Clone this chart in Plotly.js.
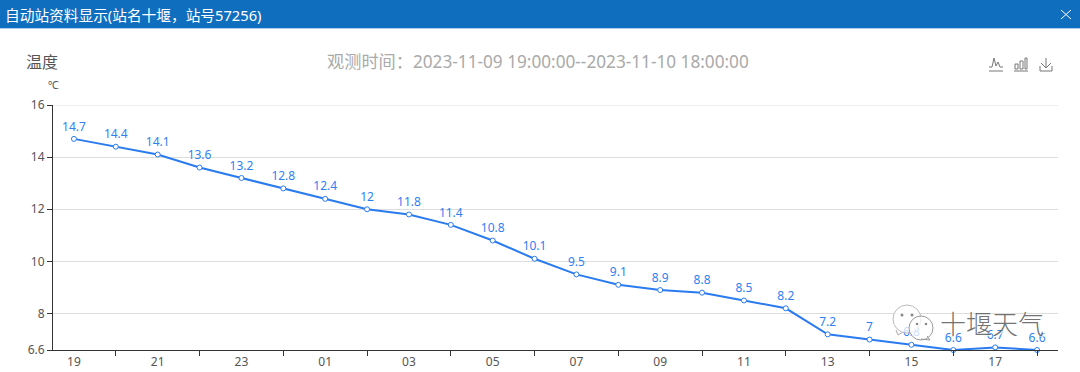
<!DOCTYPE html>
<html><head><meta charset="utf-8">
<script src="https://cdn.plot.ly/plotly-3.0.1.min.js"></script>
<style>html,body{margin:0;padding:0;background:#fff;overflow:hidden}#c{width:1080px;height:372px}</style>
</head><body><div id="c"></div>
<script>
const hours = ['19','20','21','22','23','00','01','02','03','04','05','06','07','08','09','10','11','12','13','14','15','16','17','18'];
const temps = [14.7,14.4,14.1,13.6,13.2,12.8,12.4,12,11.8,11.4,10.8,10.1,9.5,9.1,8.9,8.8,8.5,8.2,7.2,7,6.8,6.6,6.7,6.6];
const labelledHours = ['19','21','23','01','03','05','07','09','11','13','15','17'];
const tickedHours = ['20','22','00','02','04','06','08','10','12','14','16','18'];
const yTicks = [6.6,8,10,12,14,16];
const yTickText = ['6.6','8','10','12','14','16'];
const panelTitle = '自动站资料显示(站名十堰\uFF0C站号57256)';
const chartName = '温度';
const timeTitle = '观测时间\uFF1A2023-11-09 19:00:00--2023-11-10 18:00:00';
const unit = '℃';
const watermark = '十堰天气';

const L=53,R=1058,T=105,B=350;
const FONT='"Noto Sans","Noto Sans CJK SC",sans-serif';
const X=p=>(p-L)/(R-L), Y=p=>(B-p)/(B-T);
const path=(cmds)=>cmds.map(c=>typeof c==='string'?c:X(c[0])+','+Y(c[1])).join(' ').replace(/([MLQC]) /g,'$1');
function line(d,color,w){return {type:'path',xref:'paper',yref:'paper',path:path(d),line:{color:color,width:w},fillcolor:'rgba(0,0,0,0)',layer:'above'};}
function rect(x0,y0,x1,y1,fill){return {type:'rect',xref:'paper',yref:'paper',x0:X(x0),x1:X(x1),y0:Y(y0),y1:Y(y1),fillcolor:fill,line:{width:0},layer:'above'};}
function circ(cx,cy,r,fill,stroke){return {type:'circle',xref:'paper',yref:'paper',x0:X(cx-r),x1:X(cx+r),y0:Y(cy-r),y1:Y(cy+r),fillcolor:fill,line:{color:stroke,width:stroke==='rgba(0,0,0,0)'?0:1},layer:'above'};}
function note(text,px,py,size,color,anchor){return {text:text,xref:'paper',yref:'paper',x:X(px),y:Y(py),xanchor:anchor||'left',yanchor:'middle',showarrow:false,font:{family:FONT,size:size,color:color},borderpad:0};}

const ic='#777';
const shapes=[
  {type:'line',xref:'paper',yref:'y',x0:0,x1:1,y0:yTicks[yTicks.length-1],y1:yTicks[yTicks.length-1],line:{color:'#DDD',width:1},layer:'below'},
  rect(0,0,1080,28,'#106EBE'),
  rect(0,28,1080,29,'#A9CDEB'),
  line(['M',[1061,10],'L',[1071,19]],'#fff',1),
  line(['M',[1071,10],'L',[1061,19]],'#fff',1),
  // line icon
  line(['M',[989,71],'L',[1003,71]],ic,1),
  line(['M',[989,67],'L',[992,67],'L',[994,58],'L',[996,66],'L',[998,62],'L',[1000,67],'L',[1003,67]],ic,1),
  // bar icon
  line(['M',[1014,71],'L',[1028,71]],ic,1),
  line(['M',[1015,69],'L',[1015,64],'L',[1018,64],'L',[1018,69],'Z'],ic,1),
  line(['M',[1020,69],'L',[1020,61],'L',[1023,61],'L',[1023,69],'Z'],ic,1),
  line(['M',[1025,69],'L',[1025,58],'L',[1027,58],'L',[1027,69],'Z'],ic,1),
  // download icon
  line(['M',[1040,66],'L',[1040,71],'L',[1052,71],'L',[1052,66]],ic,1),
  line(['M',[1046,58],'L',[1046,68]],ic,1),
  line(['M',[1041,63],'L',[1046,68],'L',[1051,63]],ic,1),
  // watermark bubbles
  line(['M',[896,330],'L',[898,335],'L',[903,332]],'#aaa',1),
  circ(907,319,14,'rgba(255,255,255,0.75)','#bbb'),
  circ(921,328,12,'rgba(255,255,255,0.75)','#999'),
  line(['M',[921,339],'L',[930,340],'L',[927,336]],'#999',1),
  circ(902,315,1.5,'#888','rgba(0,0,0,0)'),
  circ(912,315,1.5,'#888','rgba(0,0,0,0)'),
  circ(917,324,1.3,'#888','rgba(0,0,0,0)'),
  circ(926,324,1.3,'#888','rgba(0,0,0,0)')
];
const annotations=[
  note(panelTitle,4,14.5,14.7,'#fff'),
  note(chartName,25,62,16,'#555'),
  note(timeTitle,537.5,62,17.2,'#aaa','center'),
  note(unit,53,85,11,'#555','center'),
  {text:watermark,xref:'paper',yref:'paper',x:X(992),y:Y(324),xanchor:'center',yanchor:'middle',showarrow:false,font:{family:FONT,size:26,color:'rgba(95,95,95,0.9)',weight:300,shadow:'1px 1px 1px #fff'}}
];
const labelTrace={x:hours,y:temps,type:'scatter',mode:'markers+text',text:temps.map(String),textposition:'top center',
  textfont:{family:FONT,size:12,color:'#2F7FF2'},cliponaxis:false,hoverinfo:'skip',marker:{size:7,opacity:0}};
const trace={x:hours,y:temps,type:'scatter',mode:'lines+markers',cliponaxis:false,hoverinfo:'x+y',
  line:{color:'#2B7BF0',width:2},marker:{size:5,color:'#fff',line:{color:'#2B7BF0',width:1}}};
const tickTrace={x:hours,y:hours.map(()=>null),xaxis:'x2',yaxis:'y',type:'scatter',mode:'lines',hoverinfo:'skip',showlegend:false};
const layout={width:1080,height:372,paper_bgcolor:'#fff',plot_bgcolor:'#fff',showlegend:false,
  margin:{l:L,r:1080-R,t:T,b:372-B,pad:0},
  font:{family:FONT},
  xaxis:{type:'category',categoryorder:'array',categoryarray:hours,range:[-0.5,23.5],tickmode:'array',tickvals:labelledHours,ticktext:labelledHours,
    ticks:'',showgrid:false,zeroline:false,showline:true,linecolor:'#333',linewidth:1,tickfont:{family:FONT,size:12,color:'#555'},ticklabelstandoff:1},
  xaxis2:{type:'category',categoryorder:'array',categoryarray:hours,range:[-0.5,23.5],overlaying:'x',anchor:'y',side:'bottom',tickmode:'array',tickvals:tickedHours,ticktext:tickedHours.map(()=>''),
    ticks:'outside',ticklen:5,tickcolor:'#333',tickwidth:1,showgrid:false,zeroline:false,showline:false},
  yaxis:{range:[6.6,16],tickmode:'array',tickvals:yTicks,ticktext:yTickText,ticks:'outside',ticklen:5,tickcolor:'#333',tickwidth:1,
    showgrid:true,gridcolor:'#DDD',gridwidth:1,zeroline:false,showline:true,linecolor:'#333',linewidth:1,tickfont:{family:FONT,size:12,color:'#555'}},
  shapes:shapes,annotations:annotations};
Plotly.newPlot('c',[labelTrace,trace,tickTrace],layout,{displayModeBar:false,staticPlot:false,responsive:false});
</script></body></html>
